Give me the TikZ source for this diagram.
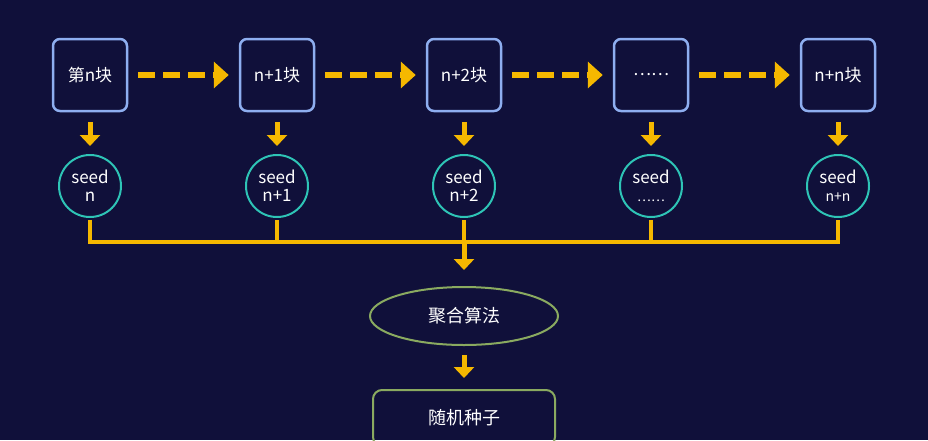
\documentclass[tikz,border=0pt]{standalone}
\usepackage{fontspec}
\setmainfont{Noto Sans CJK SC}
\usetikzlibrary{arrows.meta,shapes.geometric}
\definecolor{bg}{HTML}{10103A}
\definecolor{bbl}{HTML}{8EAEF0}
\definecolor{tealc}{HTML}{2EC4B6}
\definecolor{yel}{HTML}{F5B800}
\definecolor{grn}{HTML}{8AAA60}
\tikzset{
 blk/.style={draw=bbl,line width=2.5pt,rounded corners=7pt,minimum width=74pt,minimum height=72pt,text=white,font=\fontsize{17}{18}\selectfont},
 sd/.style={circle,draw=tealc,line width=2pt,minimum size=62pt,inner sep=0pt,text=white,align=center,font=\fontsize{17}{18}\selectfont},
 dar/.style={yel,line width=6.5pt,dash pattern=on 17pt off 8pt,-{Triangle[width=26pt,length=15pt]}},
 sar/.style={yel,line width=5pt,-{Triangle[width=20pt,length=11pt]}},
 bus/.style={yel,line width=4pt}
}
\begin{document}
\begin{tikzpicture}[x=1pt,y=-1pt]
\fill[bg] (0,0) rectangle (928,440);
\useasboundingbox (0,0) rectangle (928,440);
\foreach \i/\x/\t/\s in {1/90/第n块/n,2/277/n+1块/n+1,3/464/n+2块/n+2,4/651/……/{\fontsize{13}{14}\selectfont ……},5/838/n+n块/{\fontsize{14}{14}\selectfont n+n}}{
 \node[blk] (b\i) at (\x,75) {\t};
 \node[sd] (s\i) at (\x,186) {seed\\\s};
 \coordinate (t\i) at (\x,122);
 \coordinate (u\i) at (\x,146);
 \draw[sar] (t\i) -- (u\i);
 \coordinate (j\i) at (\x,242);
}
\foreach \a/\b in {1/2,2/3,3/4,4/5}{
 \draw[dar] ([xshift=10pt]b\a.east) -- ([xshift=-10pt]b\b.west);
}
\draw[bus] ([yshift=-2pt]s1.south) -- (j1) -- (j5) -- ([yshift=-2pt]s5.south);
\foreach \i in {2,3,4}{\draw[bus] ([yshift=-2pt]s\i.south) -- (j\i);}
\node[ellipse,draw=grn,line width=2pt,minimum width=188pt,minimum height=58pt,text=white,font=\fontsize{18}{18}\selectfont] (agg) at (464,316) {聚合算法};
\draw[sar] (j3) -- ([yshift=16pt]agg.north);
\node[draw=grn,line width=2pt,rounded corners=9pt,minimum width=182pt,minimum height=56pt,text=white,font=\fontsize{18}{18}\selectfont] (rnd) at (464,418) {随机种子};
\coordinate (a1) at (464,355);
\coordinate (a2) at (464,378);
\draw[sar] (a1) -- (a2);
\end{tikzpicture}
\end{document}
